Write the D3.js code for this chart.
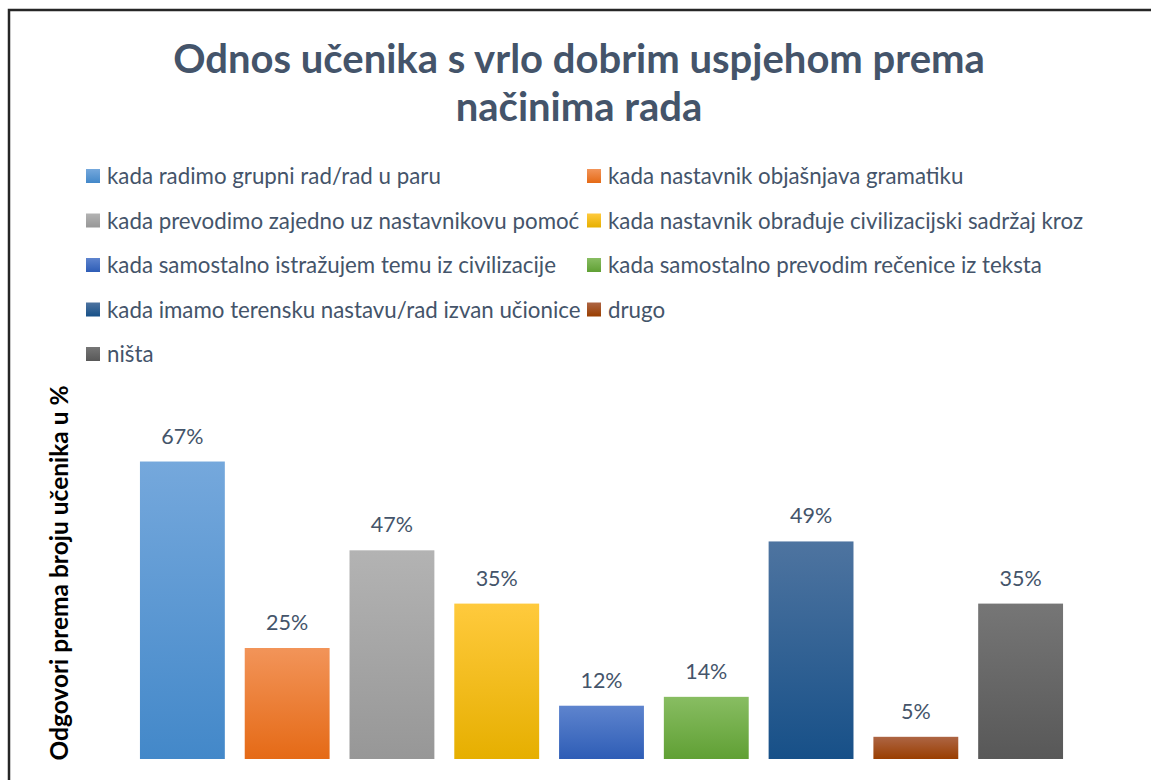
<!DOCTYPE html>
<html lang="hr">

<head>
    <meta charset="utf-8">
    <script src="https://d3js.org/d3.v7.min.js"></script>
    <style>
        body { margin: 0; background: #fff; }
        text { font-family: Lato, "Noto Sans", sans-serif; }
    </style>
</head>

<body>
    <script>
        // data
        const categories = [
            "kada radimo grupni rad/rad u paru",
            "kada nastavnik objašnjava gramatiku",
            "kada prevodimo zajedno uz nastavnikovu pomoć",
            "kada nastavnik obrađuje civilizacijski sadržaj kroz",
            "kada samostalno istražujem temu iz civilizacije",
            "kada samostalno prevodim rečenice iz teksta",
            "kada imamo terensku nastavu/rad izvan učionice",
            "drugo",
            "ništa"
        ];
        const values = [67, 25, 47, 35, 12, 14, 49, 5, 35];
        const colorsTop = ["#75a8dc", "#f29459", "#b3b3b3", "#ffca3d", "#5e84ce", "#88bd62", "#4e74a0", "#ad6544", "#767676"];
        const colorsBottom = ["#4388c9", "#e56a16", "#979797", "#e6af00", "#2e5db6", "#60a034", "#175088", "#9a3e00", "#585858"];
        const titleLines = ["Odnos učenika s vrlo dobrim uspjehom prema", "načinima rada"];
        const yTitle = "Odgovori prema broju učenika u %";

        const W = 1151, H = 780;
        const textColor = "#44546a";

        const svg = d3.select("body").append("svg")
            .attr("width", W)
            .attr("height", H);

        // gradients for bars and legend keys
        const defs = svg.append("defs");
        categories.forEach((c, i) => {
            const g = defs.append("linearGradient")
                .attr("id", "grad" + i)
                .attr("x1", 0).attr("y1", 0).attr("x2", 0).attr("y2", 1);
            g.append("stop").attr("offset", "0%").attr("stop-color", colorsTop[i]);
            g.append("stop").attr("offset", "100%").attr("stop-color", colorsBottom[i]);
        });

        // chart frame (cut off at right and bottom)
        svg.append("path")
            .attr("d", "M9,790 L9,10 L1160,10")
            .attr("fill", "none")
            .attr("stroke", "#262626")
            .attr("stroke-width", 2.5);

        // title
        svg.append("g").selectAll("text")
            .data(titleLines)
            .enter()
            .append("text")
            .attr("x", 579)
            .attr("y", (d, i) => 73 + i * 48)
            .attr("text-anchor", "middle")
            .attr("fill", textColor)
            .style("font-size", "40px")
            .style("font-weight", "bold")
            .text(d => d);

        // legend: two columns, row by row
        const legend = svg.append("g").selectAll("g")
            .data(categories)
            .enter()
            .append("g")
            .attr("transform", (d, i) => {
                const col = i % 2, row = Math.floor(i / 2);
                return "translate(" + (col === 0 ? 86 : 587) + "," + (169 + row * 44.5) + ")";
            });

        legend.append("rect")
            .attr("width", 14)
            .attr("height", 14)
            .attr("fill", (d, i) => "url(#grad" + i + ")");

        legend.append("text")
            .attr("x", 21)
            .attr("y", 15)
            .attr("fill", textColor)
            .style("font-size", "22.3px")
            .text(d => d);

        // scales
        const x = d3.scaleBand()
            .domain(categories)
            .range([130, 1073])
            .paddingInner(0.19)
            .paddingOuter(0.095);

        const y = d3.scaleLinear()
            .domain([0, 100])
            .range([759, 315]);

        // bars
        svg.append("g").selectAll("rect")
            .data(values)
            .enter()
            .append("rect")
            .attr("x", (d, i) => x(categories[i]))
            .attr("y", d => y(d))
            .attr("width", x.bandwidth())
            .attr("height", d => y(0) - y(d))
            .attr("fill", (d, i) => "url(#grad" + i + ")");

        // data labels
        svg.append("g").selectAll("text")
            .data(values)
            .enter()
            .append("text")
            .attr("x", (d, i) => x(categories[i]) + x.bandwidth() / 2)
            .attr("y", d => y(d) - 18)
            .attr("text-anchor", "middle")
            .attr("fill", textColor)
            .style("font-size", "21.5px")
            .text(d => d + "%");

        // y axis title
        svg.append("text")
            .attr("transform", "translate(68,573) rotate(-90)")
            .attr("text-anchor", "middle")
            .attr("fill", "#000")
            .style("font-size", "24.5px")
            .style("font-weight", "bold")
            .text(yTitle);
    </script>
</body>

</html>
